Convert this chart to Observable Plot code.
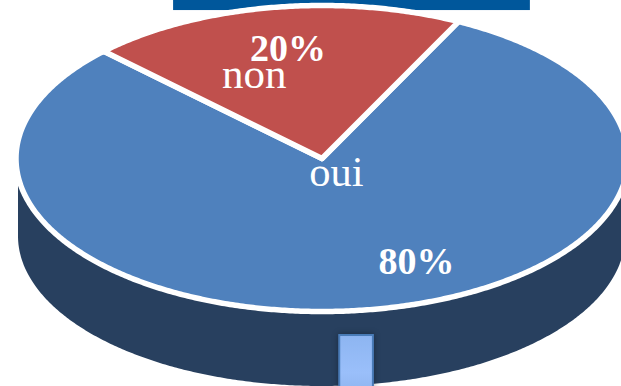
<!DOCTYPE html>
<html>
<head>
<meta charset="utf-8">
<script src="https://cdn.jsdelivr.net/npm/d3@7"></script>
<script src="https://cdn.jsdelivr.net/npm/@observablehq/plot@0.6"></script>
<style>
html,body{margin:0;padding:0;background:#fff;overflow:hidden}
svg{display:block;overflow:hidden}
</style>
</head>
<body>
<div id="chart"></div>
<script>
const categories = ["oui", "non"];
const shares = [80, 20];
const shareLabels = ["80%", "20%"];

const sliceColors = ["#4f81bd", "#c0504d"];
const startAngle = 26.5;
const depth = 0.51;
const sideScaleX = 0.9918;
const sideScaleY = 0.98;

// Ellipse point at a clockwise angle from the top, in unit-disc coordinates.
const rad = (a) => (a * Math.PI) / 180;
const rim = (a) => ({x: Math.sin(rad(a)), y: Math.cos(rad(a))});

let cursor = startAngle;
const slices = shares.map((s, i) => {
  const sweep = (s / d3.sum(shares)) * 360;
  const steps = Math.ceil(sweep * 2);
  const arc = d3.range(steps + 1).map((k) => rim(cursor + (sweep * k) / steps));
  cursor += sweep;
  const centre = {x: 0, y: 0};
  return {category: categories[i], color: sliceColors[i], points: [centre, ...arc, centre]};
});

const sidePoints = d3.range(90, 270.5, 0.5).map(rim);

const textMarks = [
  {t: shareLabels[1], x: -0.111, y: 0.72, size: 38, weight: "bold"},
  {t: categories[1], x: -0.221, y: 0.548, size: 43, weight: "normal"},
  {t: categories[0], x: 0.047, y: -0.0876, size: 42.5, weight: "normal"},
  {t: shareLabels[0], x: 0.309, y: -0.678, size: 38, weight: "bold"}
];

const gradient = () => {
  const defs = d3.create("svg:defs");
  const g = defs.append("linearGradient").attr("id", "tab").attr("x1", 0).attr("x2", 0).attr("y1", 0).attr("y2", 1);
  g.append("stop").attr("offset", "0%").attr("stop-color", "#8db5f1");
  g.append("stop").attr("offset", "55%").attr("stop-color", "#9abffa");
  g.append("stop").attr("offset", "100%").attr("stop-color", "#8ab0ea");
  return defs.node();
};

const chart = Plot.plot({
  width: 621,
  height: 386,
  margin: 0,
  x: {domain: [-1, 1], range: [15.5, 627.5], axis: null},
  y: {domain: [-1, 1], range: [311, 5], axis: null},
  marks: [
    gradient,
    Plot.rect([{x1: -0.485, x2: 0.681, y1: 0.967, y2: 1.04}], {
      x1: "x1", x2: "x2", y1: "y1", y2: "y2", fill: "#00579b"
    }),
    Plot.areaY(sidePoints, {
      x: (d) => d.x * sideScaleX,
      y1: (d) => d.y * sideScaleY,
      y2: (d) => d.y * sideScaleY - depth,
      fill: "#28405f"
    }),
    ...slices.map((s) =>
      Plot.line(s.points, {x: "x", y: "y", fill: s.color, stroke: "#fff", strokeWidth: 5.5, curve: "linear"})
    ),
    Plot.rect([{x1: 0.058, x2: 0.168, y1: -1.157, y2: -1.6}], {
      x1: "x1", x2: "x2", y1: "y1", y2: "y2",
      fill: "url(#tab)", stroke: "#4a7cb8", strokeWidth: 2,
      imageFilter: "drop-shadow(0 0 3px rgba(0,0,0,.35))"
    }),
    ...textMarks.map((d) =>
      Plot.text([d], {
        x: "x", y: "y", text: "t", fill: "#fff",
        fontFamily: "Liberation Serif", fontSize: d.size, fontWeight: d.weight
      })
    )
  ]
});
document.getElementById("chart").append(chart);
</script>
</body>
</html>
